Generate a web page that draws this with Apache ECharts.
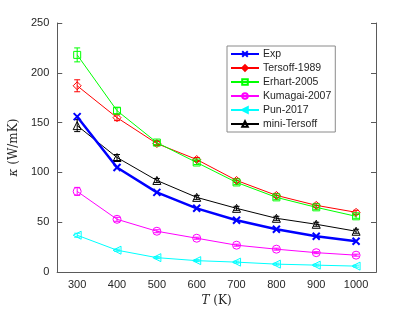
<!DOCTYPE html>
<html>
<head>
<meta charset="utf-8">
<script src="https://cdn.jsdelivr.net/npm/echarts@6/dist/echarts.min.js"></script>
<style>html,body{margin:0;padding:0;background:#fff}#c{width:415px;height:312px}</style>
</head>
<body>
<div id="c"></div>
<script>
const temps = ['300','400','500','600','700','800','900','1000'];
const yTicks = [0, 50, 100, 150, 200, 250];
const expVals = [156, 105, 80, 64, 52, 43, 36, 31];
const tersoff = [187, 155, 129, 113, 92, 77, 67, 60];
const tersoffErr = [6, 3, 2, 2, 2, 2, 2, 2];
const erhart = [218, 162, 130, 110, 90, 75, 65, 56];
const erhartErr = [7, 3, 2, 2, 2, 2, 2, 2];
const kumagai = [81, 53, 41, 34, 27, 23, 19.5, 17];
const kumagaiErr = [4, 2, 1.5, 1, 1, 1, 1, 1];
const pun = [37, 22, 14.5, 11.5, 10, 8, 7, 6];
const punErr = [2, 1, 1, 1, 1, 1, 1, 1];
const mini = [147, 115, 92, 75, 64, 54, 48, 41];
const miniErr = [6, 3, 2, 2, 2, 2, 2, 2];

const chart = echarts.init(document.getElementById('c'), null, {renderer: 'canvas'});

function lineSeries(name, data, color, symbol, opts) {
  return Object.assign({
    name: name, type: 'line', data: data, symbol: symbol, symbolSize: 7,
    xAxisIndex: 0, yAxisIndex: 0,
    lineStyle: {color: color, width: 1},
    itemStyle: {color: 'rgba(0,0,0,0)', borderColor: color, borderWidth: 1},
    emphasis: {disabled: true}, z: 3
  }, opts || {});
}
function errSeries(name, vals, errs, color) {
  return {
    name: name, type: 'custom',
    data: vals.map((v, i) => [i, v - errs[i], v + errs[i]]),
    encode: {x: 0, y: [1, 2]},
    renderItem: function (params, api) {
      const lo = api.coord([api.value(0), api.value(1)]);
      const hi = api.coord([api.value(0), api.value(2)]);
      const w = 3;
      const st = {stroke: color, lineWidth: 1};
      return {type: 'group', children: [
        {type: 'line', shape: {x1: lo[0], y1: lo[1], x2: hi[0], y2: hi[1]}, style: st},
        {type: 'line', shape: {x1: lo[0]-w, y1: lo[1], x2: lo[0]+w, y2: lo[1]}, style: st},
        {type: 'line', shape: {x1: hi[0]-w, y1: hi[1], x2: hi[0]+w, y2: hi[1]}, style: st}
      ]};
    },
    z: 2, silent: true
  };
}

const axisColor = '#5a5a5a';
const labelFont = {color: '#262626', fontSize: 11, fontFamily: 'Liberation Sans, Arial, sans-serif'};

chart.setOption({
  animation: false,
  backgroundColor: '#fff',
  grid: {left: 54, right: 39, top: 23, bottom: 35, containLabel: false},
  xAxis: [{
    type: 'category', data: temps, boundaryGap: true, position: 'bottom',
    axisLine: {lineStyle: {color: axisColor, width: 1}},
    axisTick: {inside: true, alignWithLabel: true, length: 5, lineStyle: {color: axisColor}},
    axisLabel: Object.assign({margin: 7, interval: 0}, labelFont),
    splitLine: {show: false},
    name: '{i|T} (K)', nameLocation: 'middle', nameGap: 20,
    nameTextStyle: {fontFamily: 'DejaVu Serif, serif', fontSize: 12, color: '#262626',
      rich: {i: {fontStyle: 'italic', fontFamily: 'DejaVu Serif, serif', fontSize: 12, color: '#262626'}}}
  }, {
    type: 'category', data: temps, boundaryGap: true, position: 'top',
    axisLine: {lineStyle: {color: axisColor, width: 1}},
    axisTick: {inside: true, alignWithLabel: true, length: 5, lineStyle: {color: axisColor}},
    axisLabel: {show: false}, splitLine: {show: false}
  }],
  yAxis: [{
    type: 'value', min: 0, max: 250, interval: 50, position: 'left',
    axisLine: {show: true, lineStyle: {color: axisColor, width: 1}},
    axisTick: {show: true, inside: true, length: 5, lineStyle: {color: axisColor}},
    axisLabel: Object.assign({margin: 8, formatter: v => yTicks.includes(v) ? String(v) : ''}, labelFont),
    splitLine: {show: false},
    name: '{i|κ} (W/mK)', nameLocation: 'middle', nameGap: 28, nameRotate: 90,
    nameTextStyle: {fontFamily: 'DejaVu Serif, serif', fontSize: 12, color: '#262626',
      rich: {i: {fontStyle: 'italic', fontFamily: 'DejaVu Serif, serif', fontSize: 12, color: '#262626'}}}
  }, {
    type: 'value', min: 0, max: 250, interval: 50, position: 'right',
    axisLine: {show: true, lineStyle: {color: axisColor, width: 1}},
    axisTick: {show: true, inside: true, length: 5, lineStyle: {color: axisColor}},
    axisLabel: {show: false}, splitLine: {show: false}
  }],
  legend: {
    data: ['Exp', 'Tersoff-1989', 'Erhart-2005', 'Kumagai-2007', 'Pun-2017', 'mini-Tersoff'],
    orient: 'vertical', left: 227, top: 46,
    padding: [1, 4, 1, 3], itemGap: 0, itemWidth: 28, itemHeight: 7,
    borderColor: '#8a8a8a', borderWidth: 1, borderRadius: 0, backgroundColor: '#fff',
    textStyle: {fontSize: 10.5, lineHeight: 14, color: '#262626', fontFamily: 'Liberation Sans, Arial, sans-serif', padding: [0, 0, 0, -1]},
    selectedMode: false
  },
  series: [
    errSeries('e1', tersoff, tersoffErr, '#ff0000'),
    errSeries('e2', erhart, erhartErr, '#00ff00'),
    errSeries('e3', kumagai, kumagaiErr, '#ff00ff'),
    errSeries('e4', pun, punErr, '#00ffff'),
    errSeries('e5', mini, miniErr, '#000000'),
    lineSeries('Tersoff-1989', tersoff, '#ff0000', 'diamond', {symbolSize: 8}),
    lineSeries('Erhart-2005', erhart, '#00ff00', 'rect', {symbolSize: 7}),
    lineSeries('Kumagai-2007', kumagai, '#ff00ff', 'circle', {symbolSize: 8}),
    lineSeries('Pun-2017', pun, '#00ffff', 'triangle', {symbolSize: 8, symbolRotate: 90}),
    lineSeries('mini-Tersoff', mini, '#000000', 'triangle', {symbolSize: 8}),
    lineSeries('Exp', expVals, '#0000ff', 'path://M0,0L10,10M10,0L0,10', {
      symbolSize: 7, lineStyle: {color: '#0000ff', width: 2.5},
      itemStyle: {color: 'rgba(0,0,0,0)', borderColor: '#0000ff', borderWidth: 2}, z: 4
    })
  ]
});
</script>
</body>
</html>
